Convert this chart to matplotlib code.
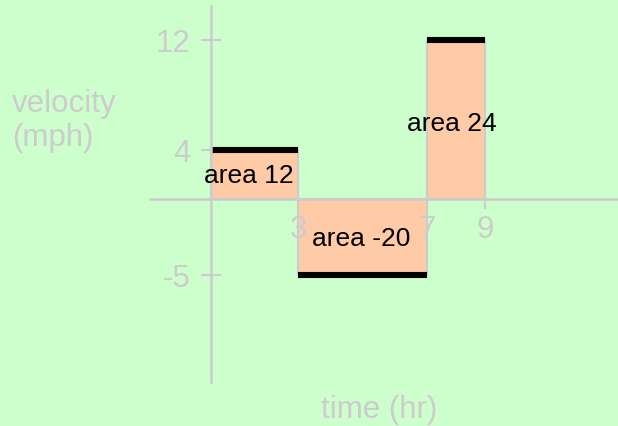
import numpy as np
import matplotlib
matplotlib.use("Agg")
import matplotlib.pyplot as plt
from matplotlib.transforms import offset_copy

# ---- data ----
starts = [0, 3, 7]
widths = [3, 4, 2]
velocities = [4, -5, 12]
xticks = [3, 7, 9]
yticks = [12, 4, -5]
xlabel = "time (hr)"
ylabel = "velocity\n(mph)"

# ---- style ----
BG = "#ccffcc"
GRAY = "#cccccc"
PEACH = "#ffcba6"
label_dx = [-6, -1, -4]  # pixel nudges of the area labels
plt.rcParams["font.family"] = ["Liberation Sans", "DejaVu Sans"]

fig = plt.figure(figsize=(6.18, 4.27), dpi=100, facecolor=BG)
ax = fig.add_axes([0, 0, 1, 1], facecolor=BG)

# the reference's axes are drawn schematically (not strictly linear)
_yk = [-100, -5, 0, 4, 12, 100]
_pk = [-76 - 95 * 15.2, -76, 0, 49, 159, 159 + 88 * 13.75]
def _yfwd(y):
    return np.interp(y, _yk, _pk)
def _yinv(p):
    return np.interp(p, _pk, _yk)

_xk = [-100, 0, 3, 7, 9, 100]
_qk = [-2900, 0, 87, 216, 274, 274 + 91 * 29]
def _xfwd(x):
    return np.interp(x, _xk, _qk)
def _xinv(p):
    return np.interp(p, _qk, _xk)

ax.set_yscale("function", functions=(_yfwd, _yinv))
ax.set_xscale("function", functions=(_xfwd, _xinv))

ax.set_xlim(_xinv(-211), _xinv(618 - 211))
ax.set_ylim(_yinv(-227), _yinv(200))

ends = [s + w for s, w in zip(starts, widths)]
ax.bar(starts, velocities, width=widths, align="edge", color=PEACH,
       edgecolor=GRAY, linewidth=1.5, zorder=1)
ax.hlines(velocities, starts, ends, colors="black", linewidth=4.4, zorder=2)

for s, w, v, dx in zip(starts, widths, velocities, label_dx):
    tr = offset_copy(ax.transData, fig=fig, x=dx, y=-1, units="dots")
    ax.text(s + w / 2, v / 2, f"area {v * w:g}", ha="center", va="center",
            fontsize=19, color="black", zorder=4, transform=tr)

for side in ("top", "right"):
    ax.spines[side].set_visible(False)
ax.spines["left"].set_position(("data", 0))
ax.spines["bottom"].set_position(("data", 0))
ax.spines["left"].set_bounds(_yinv(-183), _yinv(193))
ax.spines["bottom"].set_bounds(_xinv(-61), _xinv(618 - 211))
for side in ("left", "bottom"):
    ax.spines[side].set_color(GRAY)
    ax.spines[side].set_linewidth(1.8)

ax.set_xticks(xticks)
ax.set_yticks(yticks)
ax.set_xticklabels([str(t) for t in xticks])
ax.set_yticklabels([str(t) for t in yticks])
ax.xaxis.set_minor_locator(matplotlib.ticker.NullLocator())
ax.yaxis.set_minor_locator(matplotlib.ticker.NullLocator())
ax.tick_params(direction="inout", length=14, width=1.5, color=GRAY,
               labelcolor=GRAY, labelsize=22.5)
ax.tick_params(axis="y", pad=8)
ax.tick_params(axis="x", pad=4)

fig.text(12 / 618, 1 - 121 / 427, ylabel, ha="left", va="center",
         fontsize=22.5, color=GRAY, linespacing=1.15)
fig.text(379 / 618, 1 - 410 / 427, xlabel, ha="center", va="center",
         fontsize=22.5, color=GRAY)

fig.savefig("out.png", dpi=100, facecolor=BG)
